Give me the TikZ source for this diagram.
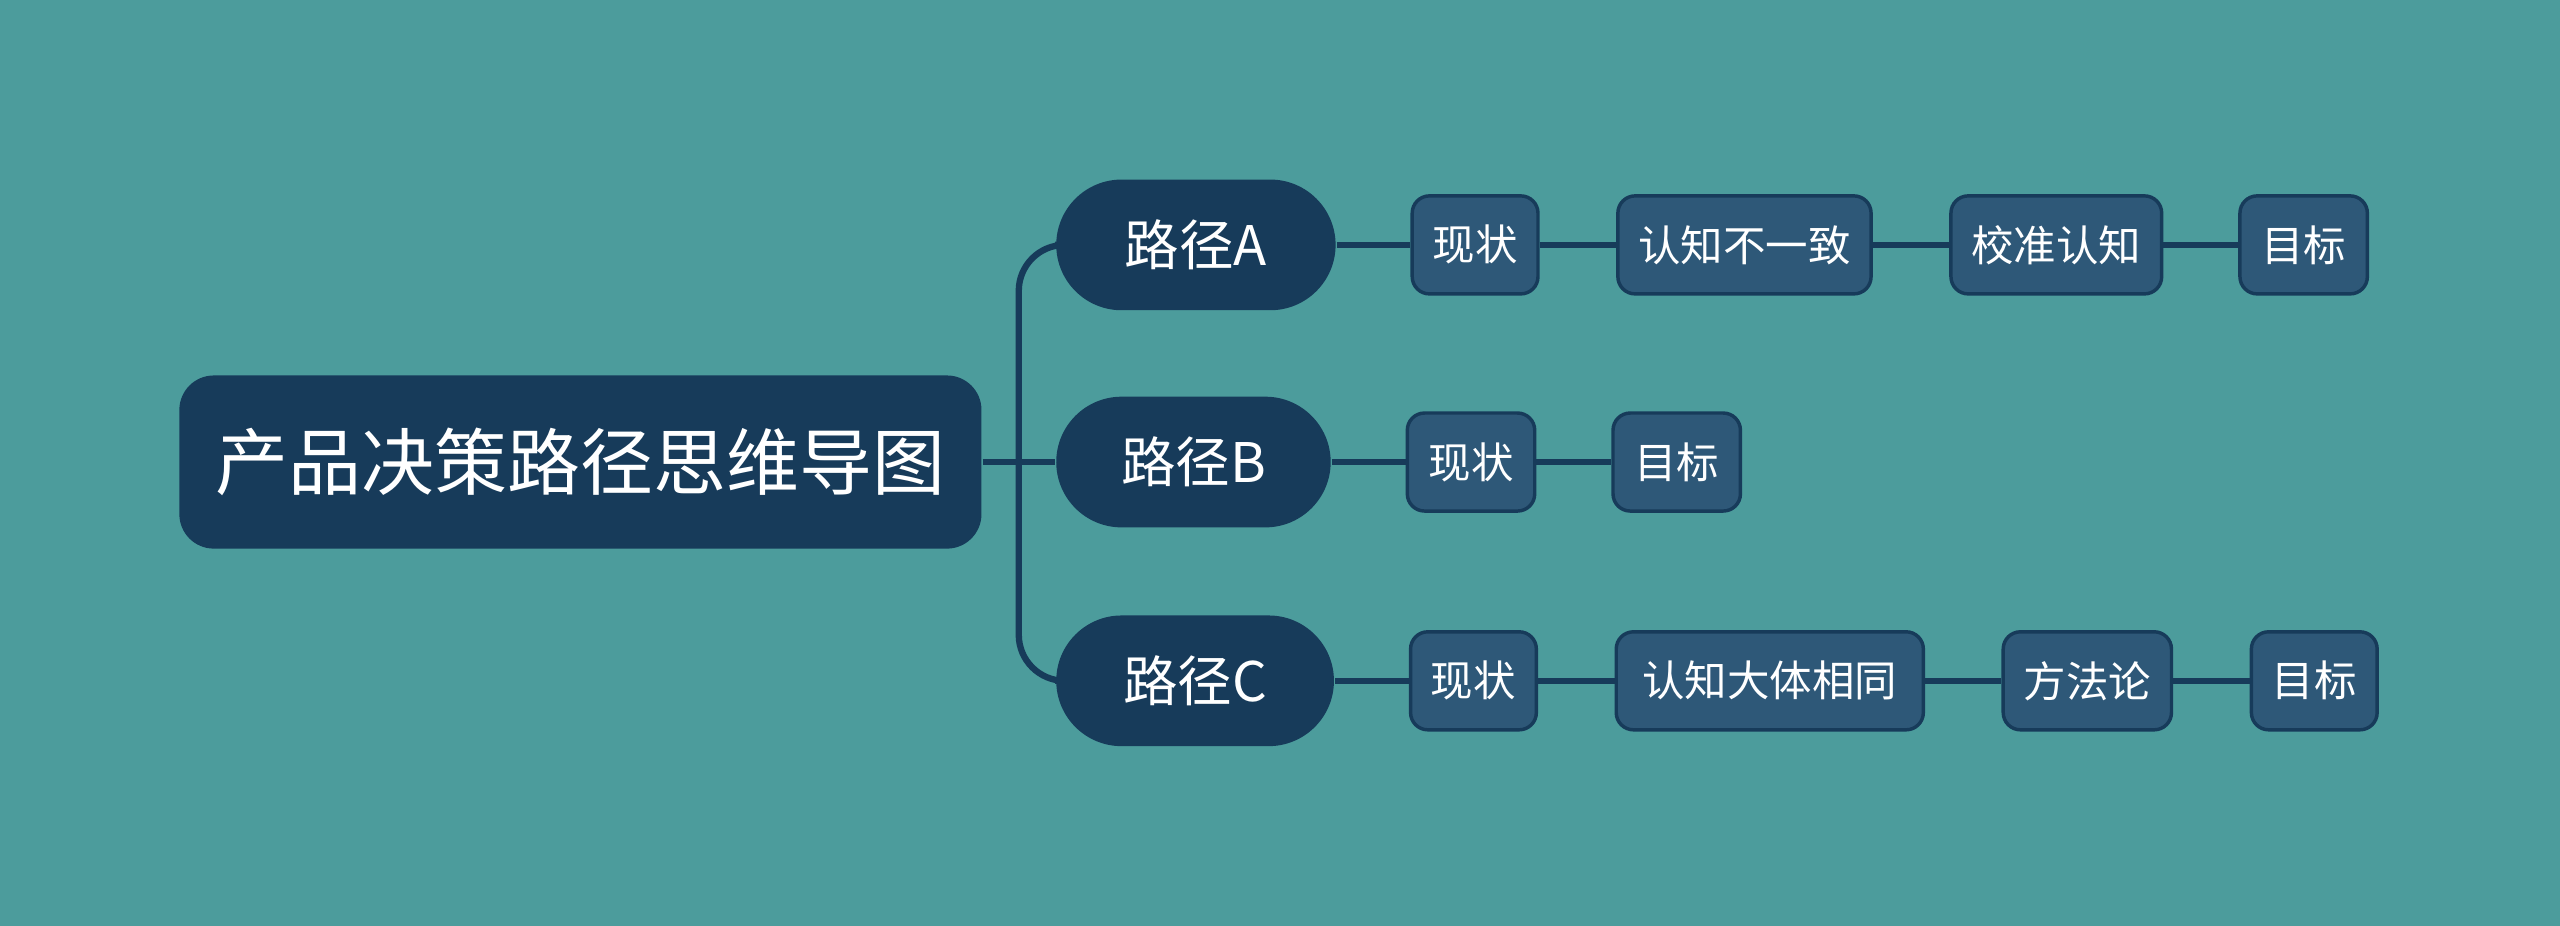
\documentclass[tikz,border=0pt]{standalone}
\usepackage{fontspec}
\setmainfont{Noto Sans CJK SC}
\definecolor{bgteal}{HTML}{4C9C9C}
\definecolor{darknavy}{HTML}{173B5A}
\definecolor{leafblue}{HTML}{2E5878}
\tikzset{
  rootbox/.style={fill=darknavy,rounded corners=6pt,text=white,minimum width=4.91cm,minimum height=1.06cm,font=\fontsize{12.7}{15}\selectfont},
  pathbox/.style={fill=darknavy,rounded corners=0.4cm,text=white,minimum width=1.7cm,minimum height=0.8cm,font=\fontsize{9.5}{11}\selectfont},
  leafbox/.style={fill=leafblue,draw=darknavy,line width=0.6pt,rounded corners=3pt,text=white,minimum height=0.6cm,inner xsep=0pt,font=\fontsize{7.4}{9}\selectfont},
  link/.style={draw=darknavy,line width=1.1pt}
}
\begin{document}
\begin{tikzpicture}[x=0.01cm,y=-0.01cm]
\fill[bgteal] (0,0) rectangle (1568,567);
\useasboundingbox (0,0) rectangle (1568,567);

\node[rootbox] (root) at (355.5,283){产品决策路径思维导图};

\node[pathbox,minimum width=1.71cm] (pa) at (732.5,150){路径A};
\node[pathbox,minimum width=1.68cm] (pb) at (731,283){路径B};
\node[pathbox,minimum width=1.70cm] (pc) at (732,417){路径C};

%% branches
\coordinate (fork) at (624,283);
\draw[link] (root.east) -- (fork);
\draw[link,rounded corners=8pt] (fork) |- (pa.west);
\draw[link] (fork) -- (pb.west);
\draw[link,rounded corners=8pt] (fork) |- (pc.west);

%% A row
\node[leafbox,minimum width=0.77cm] (a1) at (903.5,150){现状};
\node[leafbox,minimum width=1.55cm] (a2) at (1068.5,150){认知不一致};
\node[leafbox,minimum width=1.29cm] (a3) at (1259.5,150){校准认知};
\node[leafbox,minimum width=0.78cm] (a4) at (1411,150){目标};
\draw[link] (pa) -- (a1) -- (a2) -- (a3) -- (a4);

%% B row
\node[leafbox,minimum width=0.78cm] (b1) at (901,283){现状};
\node[leafbox,minimum width=0.78cm] (b2) at (1027,283){目标};
\draw[link] (pb) -- (b1) -- (b2);

%% C row
\node[leafbox,minimum width=0.77cm] (c1) at (902.5,417){现状};
\node[leafbox,minimum width=1.88cm] (c2) at (1084,417){认知大体相同};
\node[leafbox,minimum width=1.03cm] (c3) at (1278.5,417){方法论};
\node[leafbox,minimum width=0.77cm] (c4) at (1417.5,417){目标};
\draw[link] (pc) -- (c1) -- (c2) -- (c3) -- (c4);
\end{tikzpicture}
\end{document}
